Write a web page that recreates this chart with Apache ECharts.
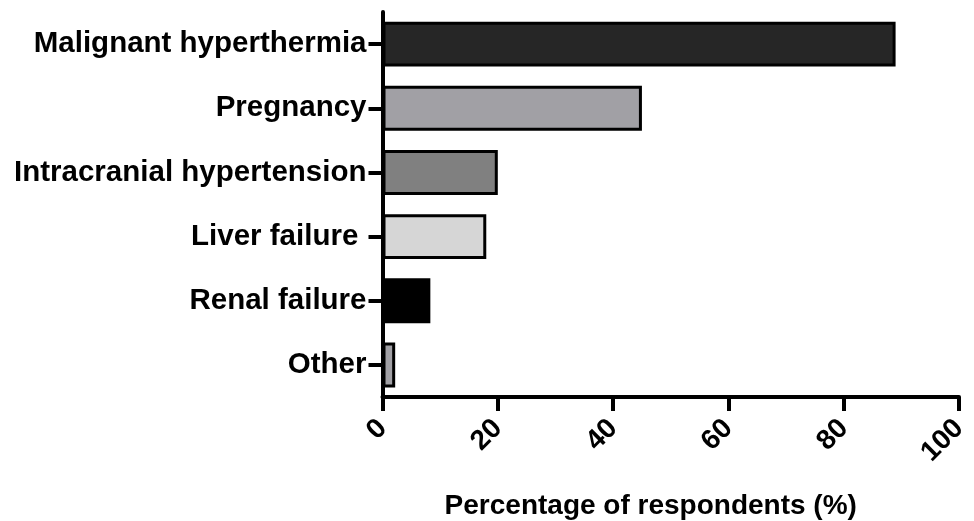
<!DOCTYPE html>
<html>
<head>
<meta charset="utf-8">
<script src="https://cdn.jsdelivr.net/npm/echarts@6/dist/echarts.min.js"></script>
<style>html,body{margin:0;padding:0;background:#fff}#c{width:974px;height:521px}</style>
</head>
<body>
<div id="c"></div>
<script>
const categories = ["Malignant hyperthermia", "Pregnancy", "Intracranial hypertension", "Liver failure ", "Renal failure", "Other"];
const values = [89, 45, 20, 18, 8.3, 2.2];
const barColors = ["#262626", "#a1a0a5", "#808080", "#d6d6d6", "#000000", "#a1a0a5"];
const xTicks = [0, 20, 40, 60, 80, 100];
const xAxisName = "Percentage of respondents (%)";

const chart = echarts.init(document.getElementById('c'), null, {renderer: 'canvas'});
const font = "'Liberation Sans', Arial, Helvetica, sans-serif";
chart.setOption({
  animation: false,
  backgroundColor: '#ffffff',
  grid: {left: 382.5, right: 15, top: 12, bottom: 124, containLabel: false, outerBoundsMode: 'none'},
  xAxis: {
    type: 'value',
    min: xTicks[0], max: xTicks[xTicks.length - 1], interval: 20,
    name: xAxisName,
    nameLocation: 'middle',
    nameGap: 95,
    nameTextStyle: {fontFamily: font, fontWeight: 'bold', fontSize: 28, color: '#000', padding: [0, 40, 0, 0]},
    axisLine: {show: true, lineStyle: {color: '#000', width: 4}},
    axisTick: {show: true, length: 14, lineStyle: {color: '#000', width: 4}},
    splitLine: {show: false},
    axisLabel: {rotate: 45, margin: 27, fontFamily: font, fontWeight: 'bold', fontSize: 28, color: '#000'}
  },
  yAxis: {
    type: 'category',
    data: categories,
    inverse: true,
    axisLine: {show: true, lineStyle: {color: '#000', width: 4}},
    axisTick: {show: true, alignWithLabel: true, length: 14, lineStyle: {color: '#000', width: 4}},
    axisLabel: {margin: 16, fontFamily: font, fontWeight: 'bold', fontSize: 29.5, color: '#000'},
    splitLine: {show: false}
  },
  series: [{
    type: 'bar',
    barWidth: '70%',
    data: values.map((v, i) => ({value: v, itemStyle: {color: barColors[i]}})),
    itemStyle: {borderColor: '#000', borderWidth: 3},
    z: 1
  }]
});
</script>
</body>
</html>
